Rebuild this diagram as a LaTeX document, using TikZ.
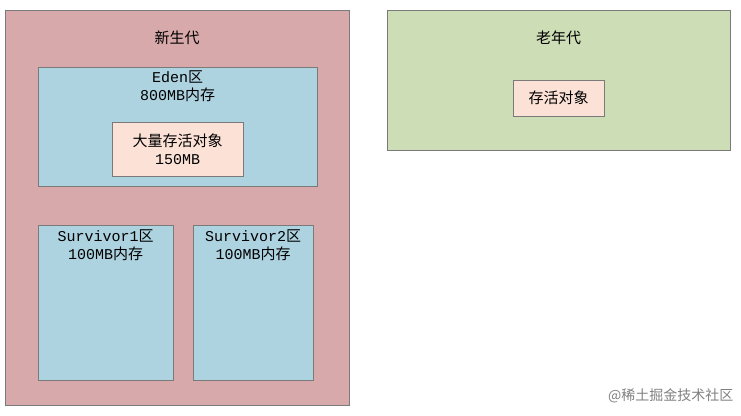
\documentclass[tikz,border=0pt]{standalone}
\usepackage{fontspec}
\setmainfont{Liberation Mono}
\newfontfamily\cjk{Noto Sans CJK SC}
\newfontfamily\latn{Liberation Mono}
\usetikzlibrary{positioning}
\definecolor{pinkgen}{HTML}{D8A9AA}
\definecolor{edenblue}{HTML}{AED3E0}
\definecolor{oldgreen}{HTML}{CDDDB5}
\definecolor{objsalmon}{HTML}{FBE1D6}
\definecolor{edgegray}{HTML}{7A7A7A}
\newcommand{\lt}[1]{{\latn #1}}
\begin{document}
\begin{tikzpicture}[x=1pt,y=-1pt,font=\cjk\fontsize{15}{18}\selectfont,
    area/.style={draw=edgegray,anchor=north west,inner sep=0pt},
    obj/.style={draw=edgegray,fill=objsalmon,align=center,anchor=north west,inner sep=0pt}]
    \useasboundingbox (0,0) rectangle (741,415);
    \node[area,fill=pinkgen,minimum width=344,minimum height=395] (young) at (5,10) {};
    \node[below=17pt of young.north] {新生代};
    \node[area,fill=edenblue,minimum width=279,minimum height=119] (eden) at (38,67) {};
    \node[below=2pt of eden.north,align=center,inner sep=2pt] {\lt{Eden}区\\\lt{800MB}内存};
    \node[obj,minimum width=131,minimum height=54] (big) at (112,122) {大量存活对象\\\lt{150MB}};
    \node[area,fill=edenblue,minimum width=135,minimum height=155] (surv1) at (38,225) {};
    \node[below=3pt of surv1.north,align=center,inner sep=2pt] {\lt{Survivor1}区\\\lt{100MB}内存};
    \node[area,fill=edenblue,minimum width=120,minimum height=155] (surv2) at (193,225) {};
    \node[below=3pt of surv2.north,align=center,inner sep=2pt] {\lt{Survivor2}区\\\lt{100MB}内存};
    \node[area,fill=oldgreen,minimum width=343,minimum height=140] (old) at (387,10) {};
    \node[below=17pt of old.north] {老年代};
    \node[obj,minimum width=91,minimum height=36] (alive) at (513,80) {存活对象};
    \node[text=gray,anchor=east,font=\cjk\fontsize{14}{16}\selectfont] (mark) at (737,396) {@稀土掘金技术社区};
\end{tikzpicture}
\end{document}
